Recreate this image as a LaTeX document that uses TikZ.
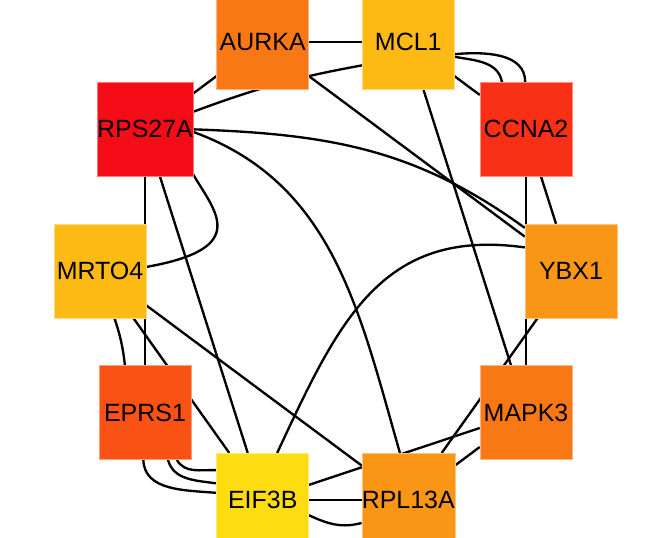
\documentclass[tikz,border=0pt]{standalone}
\usepackage{fontspec}
\setmainfont{Liberation Sans}
\usetikzlibrary{positioning,backgrounds}
\definecolor{hubred}{RGB}{244,12,22}
\definecolor{hubscarlet}{RGB}{248,48,22}
\definecolor{hubvermil}{RGB}{250,82,20}
\definecolor{huborange}{RGB}{248,120,22}
\definecolor{hubamber}{RGB}{250,150,22}
\definecolor{hubgold}{RGB}{253,185,20}
\definecolor{hubyellow}{RGB}{253,220,18}

\begin{document}
\begin{tikzpicture}[
    x=0.03cm, y=0.03cm,
    gene/.style={rectangle, minimum width=2.76cm, minimum height=2.82cm, inner sep=0pt,
                 line width=0.4pt, font=\fontsize{21.3}{25}\selectfont},
    link/.style={black, line width=2pt}
]
\useasboundingbox (0,0) rectangle (668,538);
\clip (0,0) rectangle (668,538);

% Genes on the ring
\foreach \name/\ang/\col in {MCL1/72/hubgold, CCNA2/36/hubscarlet, YBX1/0/hubamber,
    MAPK3/-36/huborange, RPL13A/-72/hubamber, EIF3B/-108/hubyellow,
    EPRS1/-144/hubvermil, MRTO4/180/hubgold, RPS27A/144/hubred, AURKA/108/huborange} {
  \node[gene, fill=\col, draw=\col!55!white] (\name)
    at ({335.5+235.5*cos(\ang)}, {267+241*sin(\ang)}) {\name};
}

\begin{scope}[on background layer]
% Straight interactions
\foreach \a/\b in {AURKA/MCL1, AURKA/RPS27A, AURKA/YBX1, MCL1/CCNA2, MCL1/MAPK3,
    CCNA2/YBX1, CCNA2/MAPK3, YBX1/RPL13A, MAPK3/RPL13A, MAPK3/EIF3B,
    EIF3B/RPL13A, RPS27A/EPRS1, RPS27A/EIF3B, MRTO4/EIF3B, MRTO4/RPL13A} {
  \draw[link] (\a) -- (\b);
}

% Curved interactions
\draw[link] (RPS27A.20) to[bend left=5] (MCL1.207);
\draw[link] (RPS27A.east) to[out=-2, in=144] (YBX1.137);
\draw[link] (RPS27A.-3) to[out=-20, in=106] (RPL13A.100);
\draw[link] (RPS27A.-43) to[out=-60, in=10, out looseness=1.05, in looseness=2.65] (MRTO4.5);
\draw[link] (EIF3B.73) to[out=65, in=172, looseness=1.15] (YBX1.153);
\draw[link] (MRTO4.-73) to[bend left=6] (EPRS1.113);

% Parallel interactions
\draw[link] (MCL1.-15) to[out=5, in=90] (CCNA2.91);
\draw[link] (MCL1.-18) to[out=-10, in=100] (CCNA2.117);
\draw[link] (EPRS1.-92) to[out=-88, in=175] (EIF3B.171);
\draw[link] (EPRS1.-64) to[out=-75, in=172] (EIF3B.160);
\draw[link] (EPRS1.-56) to[out=-60, in=178] (EIF3B.147);
\draw[link] (EIF3B.-18) to[out=-25, in=195] (RPL13A.206);
\end{scope}

\end{tikzpicture}
\end{document}
